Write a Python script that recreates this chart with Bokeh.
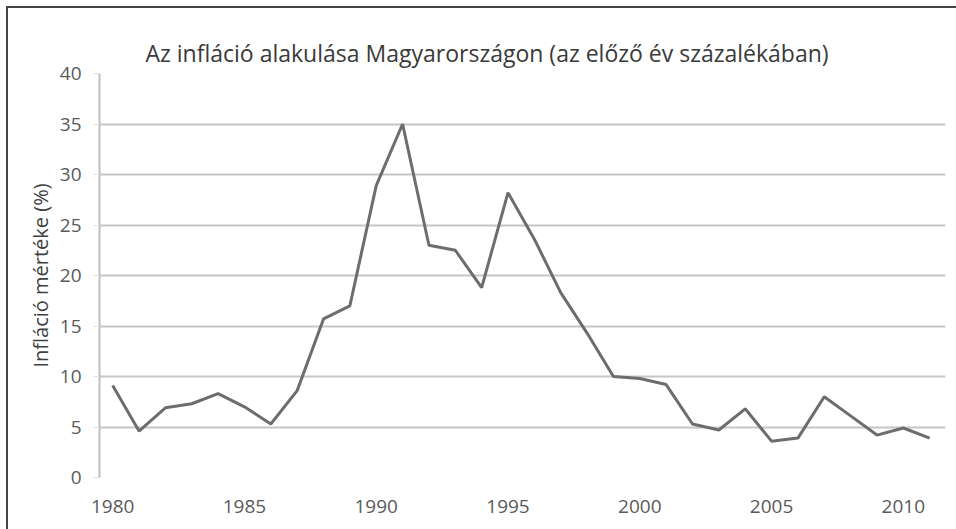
from bokeh.plotting import figure
from bokeh.embed import file_html
from bokeh.resources import INLINE
from bokeh.models import FixedTicker, Range1d, ColumnDataSource, Title

years = list(range(1980, 2012))
inflation = [9.1, 4.6, 6.9, 7.3, 8.3, 7.0, 5.3, 8.6, 15.7, 17.0,
             28.9, 35.0, 23.0, 22.5, 18.8, 28.2, 23.6, 18.3, 14.3, 10.0,
             9.8, 9.2, 5.3, 4.7, 6.8, 3.6, 3.9, 8.0, 6.1, 4.2,
             4.9, 3.9]
x_ticks = [1980, 1985, 1990, 1995, 2000, 2005, 2010]
y_ticks = [0, 5, 10, 15, 20, 25, 30, 35, 40]
title_text = "Az infláció alakulása Magyarországon (az előző év százalékában)"
y_label = "Infláció mértéke (%)"

FONT = "Open Sans"

p = figure(width=950, height=523, output_backend="svg", toolbar_location=None,
           x_range=Range1d(1979.5, 2011.6), y_range=Range1d(0, 40),
           min_border_left=91, min_border_right=13, min_border_top=65,
           min_border_bottom=54)

# spacer title nearest the frame, pushing the real title upward
p.title.text = " "
p.title.text_font = FONT
p.title.text_font_size = "10px"
p.title.standoff = 0

main_title = Title(text=title_text, align="left", offset=46, standoff=10,
                   text_font=FONT, text_font_size="23px",
                   text_font_style="normal", text_color="#3a3a3a")
p.add_layout(main_title, "above")

src = ColumnDataSource(dict(year=years, val=inflation))
p.line("year", "val", source=src, line_color="#6d6d6d", line_width=3)

p.outline_line_color = None
p.xgrid.grid_line_color = None
p.ygrid.grid_line_color = "#c6c6c6"
p.ygrid.grid_line_width = 2
p.ygrid.ticker = FixedTicker(ticks=y_ticks)

p.xaxis.ticker = FixedTicker(ticks=x_ticks)
p.yaxis.ticker = FixedTicker(ticks=y_ticks)

p.xaxis.axis_line_color = None
p.xaxis.major_tick_line_color = None
p.xaxis.minor_tick_line_color = None
p.xaxis.major_label_standoff = 16

p.yaxis.axis_line_color = "#bdbdbd"
p.yaxis.axis_line_width = 2
p.yaxis.major_tick_line_color = "#e0e0e0"
p.yaxis.major_tick_out = 6
p.yaxis.major_tick_in = 0
p.yaxis.minor_tick_line_color = None
p.yaxis.major_label_standoff = 12
p.yaxis.axis_label = y_label
p.yaxis.axis_label_text_font = FONT
p.yaxis.axis_label_text_font_size = "20px"
p.yaxis.axis_label_text_font_style = "normal"
p.yaxis.axis_label_text_color = "#404040"
p.yaxis.axis_label_standoff = 3

for ax in (p.xaxis, p.yaxis):
    ax.major_label_text_font = FONT
    ax.major_label_text_font_size = "19px"
    ax.major_label_text_color = "#5a5a5a"

p.styles = {"border-top": "2px solid #444444", "border-left": "2px solid #444444",
            "box-sizing": "border-box", "margin-left": "6px", "margin-top": "6px"}

open("out.html", "w").write(file_html(p, INLINE))
